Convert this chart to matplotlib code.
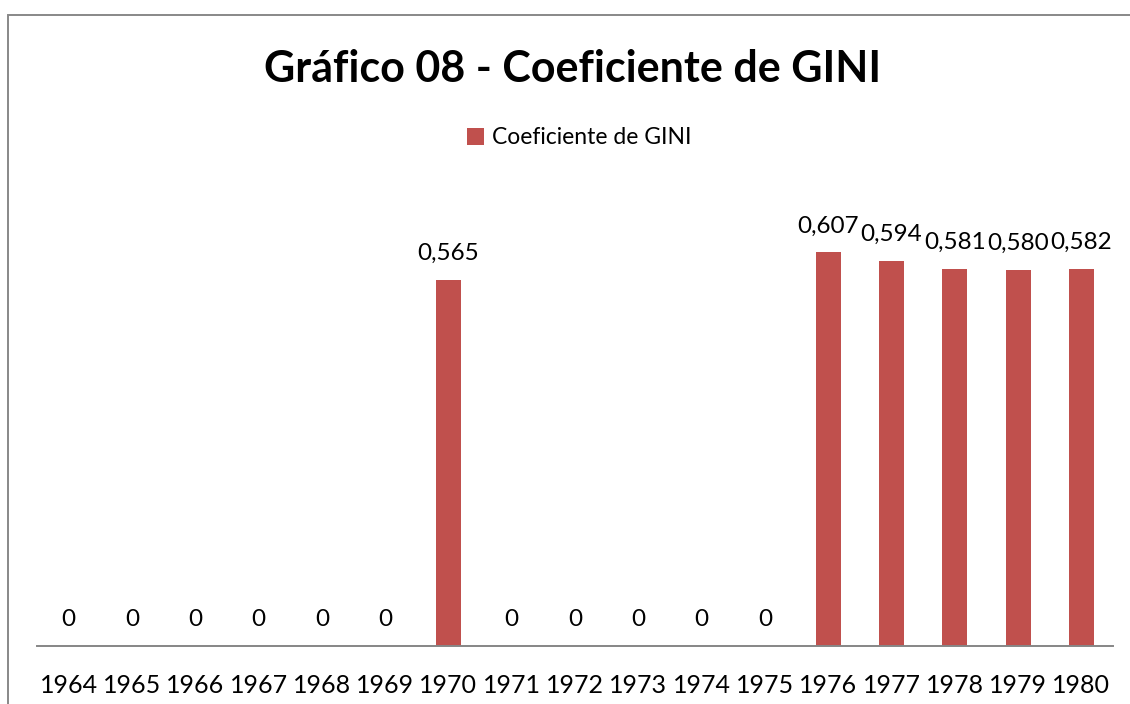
import matplotlib.pyplot as plt
from matplotlib.patches import Rectangle

plt.rcParams['font.family'] = ['Lato', 'DejaVu Sans']

anos = ['1964', '1965', '1966', '1967', '1968', '1969', '1970', '1971', '1972',
        '1973', '1974', '1975', '1976', '1977', '1978', '1979', '1980']
gini = [0, 0, 0, 0, 0, 0, 0.565, 0, 0, 0, 0, 0, 0.607, 0.594, 0.581, 0.580, 0.582]
rotulos = ['0', '0', '0', '0', '0', '0', '0,565', '0', '0', '0', '0', '0',
           '0,607', '0,594', '0,581', '0,580', '0,582']

cor = '#C0504D'

fig = plt.figure(figsize=(11.30, 7.04), dpi=100)
# moldura cinza (corta nas bordas direita e inferior como no original)
fig.patches.append(Rectangle((8 / 1130, -0.1), 1.2, (704 - 15) / 704 + 0.1,
                             transform=fig.transFigure, fill=False,
                             edgecolor='#888888', linewidth=1.4))

ax = fig.add_axes([37 / 1130, 58 / 704, 1076 / 1130, 454 / 704])
x = list(range(len(anos)))
barras = ax.bar(x, gini, width=0.395, color=cor, label='Coeficiente de GINI')
ax.set_xlim(-0.5, len(anos) - 0.5)
ax.set_ylim(0, 0.7)

for xi, v, r in zip(x, gini, rotulos):
    ax.annotate(r, (xi, v), xytext=(0, 19), textcoords='offset points',
                ha='center', va='center', fontsize=17.5)

ax.set_xticks(x)
ax.set_xticklabels(anos, fontsize=18)
ax.tick_params(axis='x', length=0, pad=20)
ax.set_yticks([])
for s in ['top', 'left', 'right']:
    ax.spines[s].set_visible(False)
ax.spines['bottom'].set_color('#868686')
ax.spines['bottom'].set_linewidth(1.4)

fig.text(0.5066, 1 - 82 / 704, 'Gráfico 08 - Coeficiente de GINI', ha='center', va='baseline',
         fontsize=31, fontweight='bold')
fig.legend(handles=[barras], loc='center', bbox_to_anchor=(579 / 1130, 1 - 138 / 704),
           frameon=False, fontsize=16.5, handlelength=0.75, handleheight=0.75,
           handletextpad=0.35, borderpad=0)

fig.savefig('out.png', dpi=100)
